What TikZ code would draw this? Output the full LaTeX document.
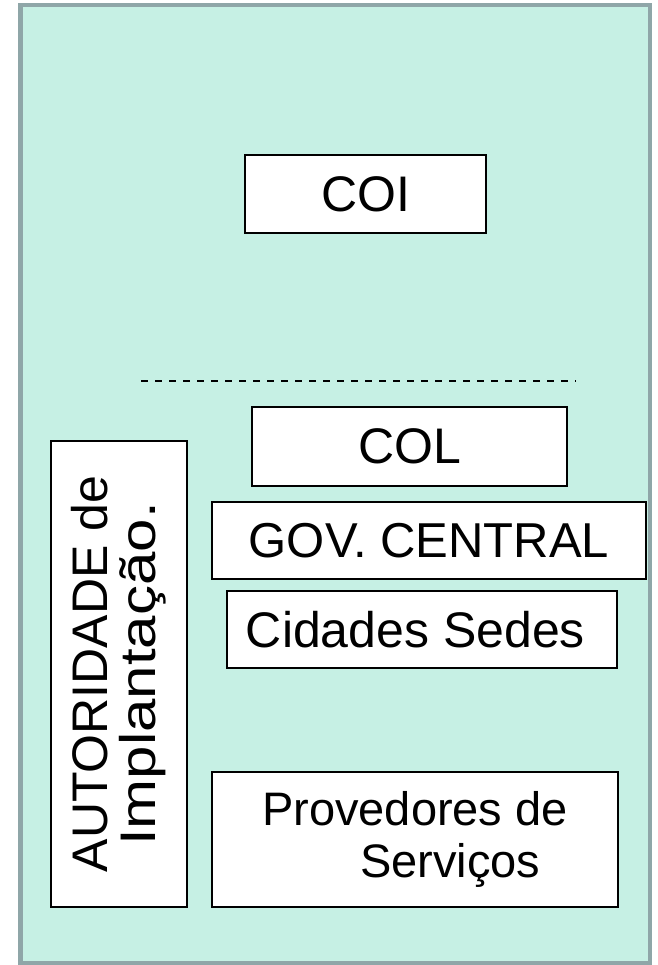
\documentclass[tikz,border=0pt]{standalone}
\usepackage{fontspec}
\setmainfont{Liberation Sans}
\usetikzlibrary{positioning}

\definecolor{panelfill}{HTML}{C6F0E4}
\definecolor{panelline}{HTML}{8FA6A8}

\begin{document}
\begin{tikzpicture}[
    x=1pt, y=1pt,
    orgbox/.style={rectangle, draw=black, fill=white, line width=2pt, inner sep=0pt, align=center, font=\fontsize{50}{48}\selectfont},
    divider/.style={dashed, line width=2pt, dash pattern=on 7pt off 7pt}
]
    \useasboundingbox (0,0) rectangle (657,-965);
    \draw[panelline, fill=panelfill, line width=4.5pt] (20.5,-5) rectangle (650,-963);

    \node[orgbox, minimum width=241, minimum height=78] (coi) at (365.5,-194) {COI};

    \coordinate (divl) at (141,-381);
    \coordinate (divr) at (576,-381);
    \draw[divider] (divl) -- (divr);

    \node[orgbox, minimum width=315, minimum height=79] (col) at (409.5,-446.5) {COL};
    \node[orgbox, minimum width=434, minimum height=77, font=\fontsize{49}{48}\selectfont] (gov) at (429,-540.5) {GOV. CENTRAL};
    \node[orgbox, minimum width=390, minimum height=77] (cidades) at (422,-629.5) {Cidades Sedes\hspace*{13pt}};
    \node[orgbox, minimum width=406, minimum height=135, align=left, font=\fontsize{47}{52}\selectfont] (provedores) at (415,-839.5) {Provedores de\\\hspace*{98pt}Serviços};

    \node[orgbox, rotate=90, minimum width=466, minimum height=136] (autoridade) at (119,-674) {AUTORIDADE de\\\scalebox{1.2}[1]{Implantação.}};
\end{tikzpicture}
\end{document}
